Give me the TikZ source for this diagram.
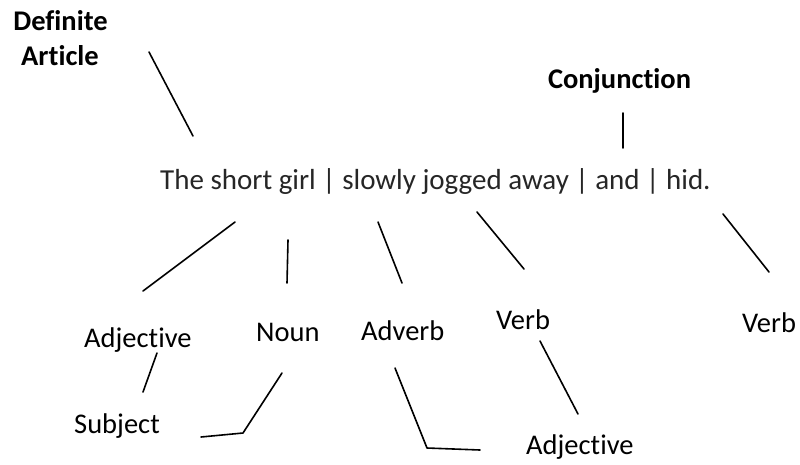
\documentclass[tikz,border=0pt]{standalone}
\usepackage{fontspec}
\setmainfont{Carlito}[Ligatures={NoCommon}]
\begin{document}
\begin{tikzpicture}[x=1pt,y=-1pt,
  word/.style={inner sep=0pt, anchor=base west, font=\fontsize{28.5}{34}\selectfont},
  head/.style={inner sep=0pt, anchor=base, font=\fontsize{28.5}{34}\selectfont\bfseries},
  sentence/.style={inner sep=0pt, anchor=base west, text=black!85, font=\fontsize{29}{34}\selectfont},
  link/.style={line width=1.6pt, line cap=round, line join=round}]
  \fill[white] (0,0) rectangle (800,464);
  \useasboundingbox (0,0) rectangle (800,464);

  % headings above the sentence
  \node[head] (defA) at (60.5,30) {Definite};
  \node[head] (defB) at (60,65) {Article};
  \node[head] (conj) at (619.5,88) {Conjunction};

  % the sentence
  \node[sentence] (sent) at (160,189) {The short girl | slowly jogged away | and | hid.};

  % labels below the sentence
  \node[word] (adjA) at (84,347) {Adjective};
  \node[word] (noun) at (256,341) {Noun};
  \node[word] (adv) at (361,340) {Adverb};
  \node[word] (verbA) at (496,329) {Verb};
  \node[word] (verbB) at (742,332) {Verb};
  \node[word] (subj) at (74,433) {Subject};
  \node[word] (adjB) at (526,454) {Adjective};

  % end points of the pointer lines
  \coordinate (d1) at (149,52);  \coordinate (d2) at (193,136);
  \coordinate (c1) at (623,113); \coordinate (c2) at (623,148);
  \coordinate (a1) at (235,222); \coordinate (a2) at (143,291);
  \coordinate (n1) at (288,240); \coordinate (n2) at (287,283);
  \coordinate (v1) at (378,222); \coordinate (v2) at (402,283);
  \coordinate (w1) at (477,212); \coordinate (w2) at (524,269);
  \coordinate (h1) at (723,214); \coordinate (h2) at (769,272);
  \coordinate (s1) at (157,353); \coordinate (s2) at (143,392);
  \coordinate (p1) at (282,373); \coordinate (p2) at (243,433); \coordinate (p3) at (201,437);
  \coordinate (q1) at (395,368); \coordinate (q2) at (427,448); \coordinate (q3) at (480,450);
  \coordinate (r1) at (540,341); \coordinate (r2) at (578,414);

  % pointer lines
  \draw[link] (d1) -- (d2);
  \draw[link] (c1) -- (c2);
  \draw[link] (a1) -- (a2);
  \draw[link] (n1) -- (n2);
  \draw[link] (v1) -- (v2);
  \draw[link] (w1) -- (w2);
  \draw[link] (h1) -- (h2);
  \draw[link] (s1) -- (s2);
  \draw[link] (p1) -- (p2) -- (p3);
  \draw[link] (q1) -- (q2) -- (q3);
  \draw[link] (r1) -- (r2);
\end{tikzpicture}
\end{document}
